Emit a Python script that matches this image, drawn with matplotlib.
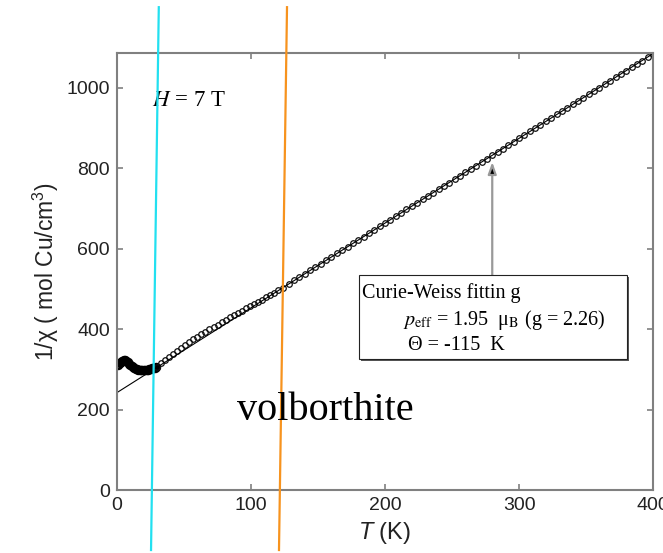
import numpy as np
import matplotlib
matplotlib.use("Agg")
import matplotlib.pyplot as plt
from matplotlib.lines import Line2D
from matplotlib.patches import Rectangle

plt.rcParams['font.family'] = ['Liberation Sans', 'DejaVu Sans']
plt.rcParams['mathtext.fontset'] = 'custom'
plt.rcParams['mathtext.rm'] = 'Liberation Sans'
plt.rcParams['mathtext.it'] = 'Liberation Sans:italic'

# measured 1/chi (H = 7 T)
T_low = [1, 2, 3, 4, 5, 6, 7, 8, 9, 10, 11, 12, 13, 14, 15, 16, 17, 18, 19, 20,
         21, 22, 23, 24, 25, 26, 27, 28, 29]
inv_chi_low = [311, 315, 318, 321, 323, 323, 321, 318, 314, 311, 308, 305, 303, 301, 300,
               299, 299, 298, 298, 298, 298, 298, 299, 300, 301, 302, 303, 304, 305]

T_mid = [30, 33, 36, 39, 42, 45, 48, 51, 54, 57, 60, 63, 66, 69, 72, 75, 78, 81, 84,
         87, 90, 93, 96, 99, 102, 105, 108, 111, 114, 117, 120]
inv_chi_mid = [306, 315, 323, 330, 339, 346, 353, 360, 367, 374, 380, 387, 393, 399,
               406, 411, 417, 423, 429, 434, 440, 445, 451, 457, 462, 467, 472, 479,
               484, 489, 496]

T_high = [124, 128, 132, 136, 140, 144, 148, 152, 156, 160, 164, 168, 172, 176, 180,
          184, 188, 192, 196, 200, 204, 208, 212, 216, 220, 224, 228, 232, 236, 240,
          244, 248, 252, 256, 260, 264, 268, 272, 276, 280, 284, 288, 292, 296, 300,
          304, 308, 312, 316, 320, 324, 328, 332, 336, 340, 344, 348, 352, 356, 360,
          364, 368, 372, 376, 380, 384, 388, 392, 396, 400]
inv_chi_high = [503, 512, 521, 528, 537, 546, 553, 562, 571, 578, 588, 596, 604, 613,
                621, 629, 638, 646, 655, 663, 672, 680, 688, 697, 705, 714, 722, 730,
                739, 748, 755, 764, 773, 781, 790, 797, 806, 815, 823, 832, 840, 848,
                857, 865, 874, 882, 891, 899, 907, 916, 924, 933, 941, 949, 958, 966,
                975, 983, 992, 1000, 1008, 1017, 1025, 1034, 1042, 1051, 1059, 1067,
                1076, 1084]

# Curie-Weiss fit: 1/chi = (T - theta) / C
theta = -115.0
C_cw = 0.475
T_fit = [0, 400]

fig = plt.figure(figsize=(6.63, 5.53), dpi=100)
ax = fig.add_axes([0.1765, 0.1139, 0.8085, 0.7897])

# low-T points sit so close together they merge into a solid band
ax.plot(T_low, inv_chi_low, linestyle='none', marker='o', markersize=5,
        markerfacecolor='none', markeredgecolor='black', markeredgewidth=1.8)
ax.plot(T_mid + T_high, inv_chi_mid + inv_chi_high, linestyle='none', marker='o',
        markersize=4, markerfacecolor='none', markeredgecolor='#111111',
        markeredgewidth=0.9)
ax.plot(T_fit, (np.array(T_fit) - theta) / C_cw, color='black', lw=0.8)

ax.set_xlim(0, 400)
ax.set_ylim(0, 1085)
ax.set_xticks([0, 100, 200, 300, 400])
ax.set_yticks([0, 200, 400, 600, 800, 1000])

for s in ax.spines.values():
    s.set_color('#808080')
    s.set_linewidth(1.5)
ax.tick_params(direction='in', length=4, width=1.2, color='#808080',
               top=True, right=True, labelsize=14, labelcolor='#222222', pad=5)

ax.set_xlabel('$T$ (K)', fontsize=17, color='#222222', labelpad=4)
ax.set_ylabel('1/χ ( mol Cu/cm$^3$)', fontsize=16.5, color='#222222', labelpad=4)

serif = ['Liberation Serif', 'DejaVu Serif']
ax.text(0.065, 0.88, '$H$ = 7 T', transform=ax.transAxes, fontsize=16.5,
        family=serif, math_fontfamily='stix', va='baseline')

# fit parameters box with drop shadow
box = (0.4515, 0.300, 0.50, 0.1923)
ax.add_patch(Rectangle((box[0] + 0.004, box[1] - 0.005), box[2], box[3],
                       transform=ax.transAxes, facecolor='#555555', edgecolor='none',
                       zorder=4))
ax.add_patch(Rectangle(box[:2], box[2], box[3], transform=ax.transAxes,
                       facecolor='white', edgecolor='#222222', lw=0.8, zorder=5))
ax.text(0.4565, 0.440, 'Curie-Weiss fittin g', transform=ax.transAxes,
        fontsize=14.5, family=serif, va='baseline', zorder=6)
ax.text(0.533, 0.378, r'$p_{\rm eff}$ = 1.95  μ$_{\rm B}$ (g = 2.26)',
        transform=ax.transAxes, fontsize=14.5, family=serif,
        math_fontfamily='stix', va='baseline', zorder=6)
ax.text(0.543, 0.320, 'Θ = -115  K', transform=ax.transAxes,
        fontsize=14.5, family=serif, va='baseline', zorder=6)

ax.annotate('', xy=(280, 815), xycoords='data',
            xytext=(280, box[1] + box[3]), textcoords=('data', 'axes fraction'),
            arrowprops=dict(arrowstyle='-|>,head_length=0.7,head_width=0.25',
                            edgecolor='#999999', facecolor='black', lw=1.6,
                            shrinkA=0, shrinkB=0))

fig.text(0.357, 0.2405, 'volborthite', fontsize=29, family=serif, va='baseline')

# vertical guide lines across the figure
fig.add_artist(Line2D([0.2395, 0.2278], [0.987, 0.0054], transform=fig.transFigure,
                      color='#22e0f0', lw=1.6))
fig.add_artist(Line2D([0.4329, 0.4208], [0.987, 0.0054], transform=fig.transFigure,
                      color='#f7931e', lw=1.6))

fig.savefig('out.png', dpi=100)
